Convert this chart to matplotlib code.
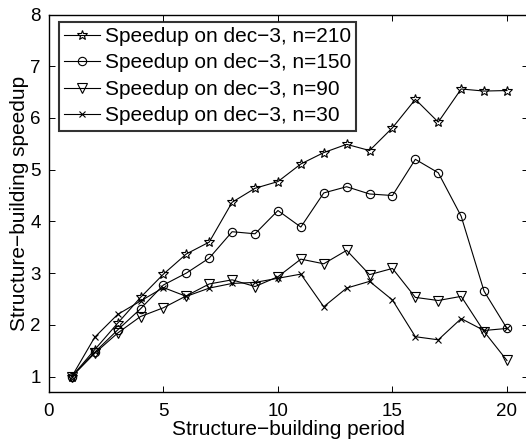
import matplotlib
matplotlib.use("Agg")
import matplotlib.pyplot as plt

plt.rcParams['font.family'] = ['Liberation Sans', 'DejaVu Sans']

periods = list(range(1, 21))
n210 = [1.0, 1.52, 2.03, 2.53, 2.98, 3.37, 3.60, 4.37, 4.64, 4.77,
        5.11, 5.33, 5.49, 5.37, 5.81, 6.36, 5.92, 6.56, 6.52, 6.53]
n150 = [1.0, 1.47, 1.90, 2.31, 2.77, 3.00, 3.29, 3.80, 3.76, 4.21,
        3.89, 4.55, 4.67, 4.53, 4.50, 5.20, 4.94, 4.10, 2.65, 1.93]
n90 = [1.0, 1.45, 1.84, 2.16, 2.33, 2.56, 2.79, 2.87, 2.74, 2.93,
       3.27, 3.18, 3.44, 2.97, 3.09, 2.53, 2.47, 2.55, 1.87, 1.31]
n30 = [1.0, 1.76, 2.20, 2.46, 2.72, 2.55, 2.71, 2.80, 2.82, 2.90,
       2.98, 2.35, 2.71, 2.84, 2.48, 1.77, 1.71, 2.12, 1.89, 1.93]
labels = ["Speedup on dec\u22123, n=210", "Speedup on dec\u22123, n=150",
          "Speedup on dec\u22123, n=90", "Speedup on dec\u22123, n=30"]

fig = plt.figure(figsize=(5.26, 4.40), dpi=100)
ax = fig.add_axes([0.093, 0.109, 0.910, 0.858])

series = [(n210, '*', 7), (n150, 'o', 6), (n90, 'v', 6.5), (n30, 'x', 4.5)]
for (vals, m, ms), lab in zip(series, labels):
    ax.plot(periods, vals, color='black', linewidth=0.8, marker=m,
            markersize=ms, markerfacecolor='none', markeredgecolor='black',
            markeredgewidth=0.8, label=lab)

ax.set_xlim(0, 20.9)
ax.set_ylim(0.7, 8)
ax.set_xticks([0, 5, 10, 15, 20])
ax.set_yticks([1, 2, 3, 4, 5, 6, 7, 8])
ax.tick_params(direction='in', top=True, right=True, labelsize=13.5, length=4,
               width=0.7, pad=6)
ax.tick_params(axis='x', pad=8)
for s in ax.spines.values():
    s.set_linewidth(1.0)
ax.set_xlabel("Structure\u2212building period", fontsize=15, labelpad=0)
ax.set_ylabel("Structure\u2212building speedup", fontsize=15, labelpad=1)

leg = ax.legend(loc='upper left', bbox_to_anchor=(0.021, 0.981), fontsize=15,
                frameon=True, fancybox=False, edgecolor='black',
                handlelength=1.7, handletextpad=0.25, borderpad=0.25,
                labelspacing=0.36, borderaxespad=0.0)
leg.get_frame().set_linewidth(1.5)

fig.savefig("out.png", dpi=100)
